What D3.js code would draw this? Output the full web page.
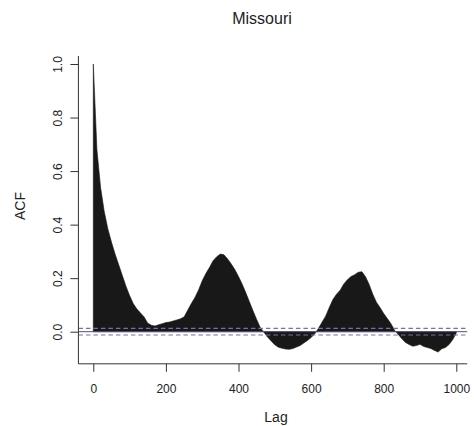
<!DOCTYPE html>
<html>
<head>
<meta charset="utf-8">
<script src="https://cdn.jsdelivr.net/npm/d3@7"></script>
<style>
  html, body { margin: 0; padding: 0; background: #fff; }
  svg { display: block; font-family: "Liberation Sans", Arial, Helvetica, sans-serif; }
</style>
</head>
<body>
<svg id="chart" width="474" height="426"></svg>
<script>
// ---- data ----
const title = "Missouri";
const xLabel = "Lag";
const yLabel = "ACF";
const lagStep = 10;
const acf = [
  1.000, 0.680, 0.540, 0.450, 0.385, 0.335, 0.290, 0.250, 0.210, 0.170,
  0.135, 0.105, 0.085, 0.070, 0.055, 0.032, 0.024, 0.021, 0.026, 0.030,
  0.034, 0.036, 0.040, 0.044, 0.048, 0.055, 0.080, 0.105, 0.128, 0.156,
  0.190, 0.217, 0.240, 0.265, 0.280, 0.290, 0.287, 0.272, 0.253, 0.232,
  0.206, 0.178, 0.146, 0.112, 0.078, 0.046, 0.016, -0.002, -0.020, -0.035,
  -0.049, -0.058, -0.062, -0.065, -0.066, -0.063, -0.057, -0.052, -0.042, -0.033,
  -0.022, -0.008, 0.012, 0.035, 0.058, 0.090, 0.120, 0.140, 0.155, 0.178,
  0.194, 0.206, 0.213, 0.222, 0.224, 0.205, 0.176, 0.140, 0.110, 0.090,
  0.068, 0.049, 0.030, 0.005, -0.010, -0.026, -0.040, -0.048, -0.054, -0.052,
  -0.047, -0.055, -0.059, -0.063, -0.070, -0.076, -0.064, -0.059, -0.048, -0.030,
  -0.005
];
const ciBound = 0.0123;
const xTicks = [0, 200, 400, 600, 800, 1000];
const yTicks = [0.0, 0.2, 0.4, 0.6, 0.8, 1.0];

// ---- scales ----
const x = d3.scaleLinear().domain([0, 1000]).range([93.3, 456.3]);
const y = d3.scaleLinear().domain([0, 1]).range([331.7, 64]);
const xMin = -41, xMax = 1030, yMin = -0.12, yMax = 1.03;

const svg = d3.select("#chart");
const data = acf.map((v, i) => ({ lag: i * lagStep, v }));

// filled ACF spikes
const area = d3.area()
  .x(d => x(d.lag))
  .y0(y(0))
  .y1(d => y(d.v));
svg.append("path")
  .datum(data)
  .attr("d", area)
  .attr("fill", "#181818")
  .attr("stroke", "#181818")
  .attr("stroke-width", 0.6);

// zero line
svg.append("line")
  .attr("x1", x(xMin)).attr("x2", x(xMax))
  .attr("y1", y(0)).attr("y2", y(0))
  .attr("stroke", "#555").attr("stroke-width", 1);

// confidence bounds
[ciBound, -ciBound].forEach(b => {
  svg.append("line")
    .attr("x1", x(xMin)).attr("x2", x(xMax))
    .attr("y1", y(b)).attr("y2", y(b))
    .attr("stroke", "#6f6fbd").attr("stroke-width", 1.1)
    .attr("stroke-dasharray", "4.5,3");
});

// L-shaped frame
svg.append("path")
  .attr("d", `M${x(xMin)},${y(yMax)}V${y(yMin)}H${x(xMax)}`)
  .attr("fill", "none").attr("stroke", "#333").attr("stroke-width", 1);

// x axis
const gx = svg.append("g")
  .attr("transform", `translate(0,${y(yMin)})`)
  .call(d3.axisBottom(x).tickValues(xTicks).tickSize(8).tickPadding(13).tickFormat(d3.format("d")));
gx.select(".domain").remove();
gx.selectAll("line").attr("stroke", "#333");
gx.selectAll("text").attr("font-size", 12).attr("fill", "#222")
  .attr("font-family", "Liberation Sans, Arial, sans-serif");

// y axis
const gy = svg.append("g")
  .attr("transform", `translate(${x(xMin)},0)`)
  .call(d3.axisLeft(y).tickValues(yTicks).tickSize(8).tickFormat(d3.format(".1f")));
gy.select(".domain").remove();
gy.selectAll("line").attr("stroke", "#333");
gy.selectAll("text")
  .attr("font-size", 12).attr("fill", "#222")
  .attr("font-family", "Liberation Sans, Arial, sans-serif")
  .attr("text-anchor", "middle")
  .attr("dy", null)
  .attr("x", null)
  .attr("transform", "translate(-16.5,0) rotate(-90)");

// titles
svg.append("text")
  .attr("x", 262).attr("y", 24)
  .attr("text-anchor", "middle")
  .attr("font-size", 16).attr("fill", "#222")
  .text(title);

svg.append("text")
  .attr("x", 276).attr("y", 422)
  .attr("text-anchor", "middle")
  .attr("font-size", 14).attr("fill", "#222")
  .text(xLabel);

svg.append("text")
  .attr("transform", "translate(25,206) rotate(-90)")
  .attr("text-anchor", "middle")
  .attr("font-size", 14).attr("fill", "#222")
  .text(yLabel);
</script>
</body>
</html>
